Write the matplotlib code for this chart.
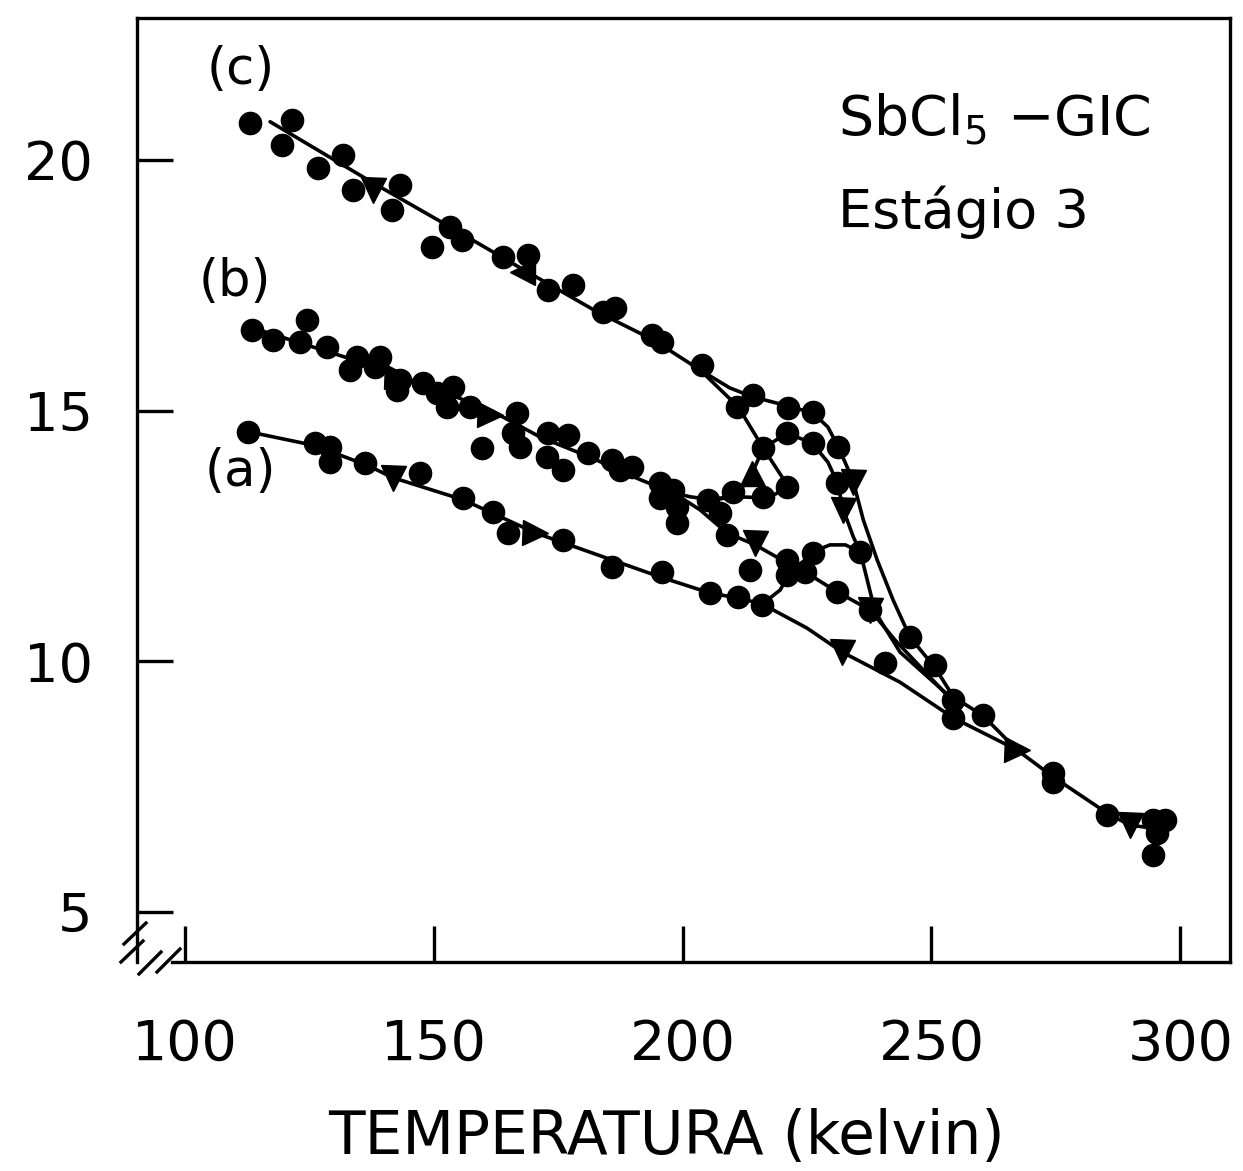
import matplotlib
matplotlib.use("Agg")
import matplotlib.pyplot as plt
from matplotlib.lines import Line2D

# ---------------- data (T in kelvin, value on y axis) ----------------
c_dot_T = [113.1, 119.5, 121.5, 126.7, 131.8, 133.8, 141.6, 143.2, 149.6, 153.3, 155.7, 163.9, 168.9,
           173.0, 178.0, 184.0, 186.4, 193.9, 195.9, 203.9, 211.0, 214.2, 221.2, 226.2, 231.3]
c_dot_V = [20.74, 20.30, 20.80, 19.84, 20.10, 19.40, 19.00, 19.50, 18.26, 18.66, 18.40, 18.06, 18.10,
           17.41, 17.51, 16.97, 17.05, 16.51, 16.37, 15.91, 15.07, 15.31, 15.05, 14.97, 14.27]

b_dot_T = [113.5, 117.7, 123.1, 124.5, 128.5, 133.2, 134.6, 138.2, 139.2, 143.2, 142.6, 147.8, 150.7,
           153.9, 152.7, 157.3, 159.7, 166.7, 165.9, 167.3, 173.0, 177.0, 172.8, 176.0, 181.0, 185.8,
           189.8, 187.4, 195.5, 195.5, 198.1, 198.9, 198.9, 205.1, 207.5, 210.1, 216.2, 221.0, 208.9,
           216.2, 221.0, 226.2, 231.1, 235.7]
b_dot_V = [16.61, 16.41, 16.37, 16.81, 16.27, 15.81, 16.07, 15.87, 16.07, 15.61, 15.41, 15.55, 15.35,
           15.47, 15.07, 15.07, 14.25, 14.95, 14.55, 14.27, 14.55, 14.51, 14.07, 13.82, 14.15, 14.01,
           13.87, 13.82, 13.56, 13.26, 13.42, 13.08, 12.76, 13.22, 12.96, 13.38, 13.28, 13.48, 12.52,
           14.25, 14.55, 14.35, 13.56, 12.18]

a_dot_T = [112.7, 126.1, 129.1, 129.1, 136.2, 147.2, 155.9, 161.9, 164.9, 176.0, 185.8, 195.9, 205.5,
           211.2, 216.0, 213.6, 221.0, 221.0, 226.2, 224.6, 231.1, 237.7]
a_dot_V = [14.57, 14.35, 14.27, 13.97, 13.95, 13.76, 13.26, 12.98, 12.56, 12.42, 11.88, 11.78, 11.36,
           11.28, 11.12, 11.82, 12.02, 11.72, 12.16, 11.78, 11.38, 11.02]

hi_dot_T = [240.7, 245.7, 250.8, 254.4, 254.4, 260.4, 274.5, 274.5, 285.3, 294.6, 297.0, 295.4, 294.6]
hi_dot_V = [9.96, 10.48, 9.92, 9.23, 8.87, 8.93, 7.77, 7.59, 6.93, 6.83, 6.83, 6.57, 6.13]

tri_T = [137.8, 167.7, 142.6, 161.3, 141.8, 170.4, 214.0, 214.6, 234.3, 232.3, 237.7, 232.1, 267.2, 289.9]
tri_V = [19.40, 17.77, 15.67, 14.91, 13.66, 12.56, 13.76, 12.36, 13.58, 13.02, 11.02, 10.18, 8.23, 6.73]
tri_dir = ['v', '<', '>', '>', 'v', '>', '^', 'v', 'v', 'v', 'v', 'v', '>', 'v']

# drawn curves
lineC_T = [117.1, 137.8, 153.3, 167.3, 182.8, 194.1, 203.5, 209.5, 214.2, 221.2, 226.2, 229.2, 231.3,
           232.9, 234.3, 236.3, 239.1, 242.3, 245.7, 250.8, 254.4, 260.4, 267.2, 274.5, 285.3, 289.9, 296.0]
lineC_V = [20.76, 19.54, 18.66, 17.85, 16.97, 16.41, 15.81, 15.45, 15.27, 15.09, 14.95, 14.67, 14.27,
           13.91, 13.58, 12.82, 12.02, 11.22, 10.48, 9.86, 9.29, 8.91, 8.23, 7.69, 6.97, 6.73, 6.65]

lineCi_T = [203.5, 211.2, 216.2, 221.0, 218.8, 216.2, 211.0, 205.9]
lineCi_V = [15.81, 15.07, 14.25, 13.52, 13.34, 13.26, 13.28, 13.22]

lineB_T = [113.5, 123.1, 135.2, 147.2, 161.3, 171.4, 181.4, 191.5, 198.1]
lineB_V = [16.65, 16.35, 15.97, 15.55, 15.01, 14.47, 14.07, 13.62, 13.36]

lineBh_T = [198.1, 201.5, 205.9, 211.0, 214.0, 216.2, 221.0, 226.0, 229.2, 231.1, 232.3, 234.3, 235.7,
            237.1, 238.7, 243.7, 254.4]
lineBh_V = [13.36, 13.28, 13.22, 13.32, 13.76, 14.25, 14.55, 14.35, 13.97, 13.56, 13.02, 12.48, 12.18,
            11.62, 10.98, 10.18, 9.23]

lineBl_T = [198.1, 203.5, 208.9, 214.6, 221.0, 224.6, 231.1, 237.7, 242.7, 254.4]
lineBl_V = [13.36, 13.02, 12.56, 12.32, 11.96, 11.78, 11.38, 11.02, 10.42, 9.19]

lineA_T = [113.1, 125.7, 136.6, 141.8, 155.9, 170.4, 185.8, 195.5, 205.5, 211.2, 216.0, 225.0, 232.1,
           243.7, 254.4, 267.2]
lineA_V = [14.57, 14.31, 13.91, 13.66, 13.22, 12.56, 12.02, 11.68, 11.36, 11.26, 11.14, 10.66, 10.18,
           9.58, 8.87, 8.23]

lineAb_T = [216.0, 219.6, 221.6, 224.6, 226.2, 229.6, 232.7, 235.7]
lineAb_V = [11.14, 11.42, 11.78, 12.02, 12.18, 12.32, 12.32, 12.18]

x_ticks = [100, 150, 200, 250, 300]
y_ticks = [5, 10, 15, 20]

# ---------------- figure ----------------
plt.rcParams['font.family'] = ['DejaVu Sans']
W, H = 1243, 1171
fig = plt.figure(figsize=(W / 100, H / 100), dpi=100)
ax = fig.add_axes([137 / W, 1 - 962 / H, (1230 - 137) / W, (962 - 18) / H])
ax.set_xlim(90.35, 310.0)
ax.set_ylim(4.0, 22.83)

lw = 2.6
for T, V in [(lineC_T, lineC_V), (lineCi_T, lineCi_V), (lineB_T, lineB_V), (lineBh_T, lineBh_V),
             (lineBl_T, lineBl_V), (lineA_T, lineA_V), (lineAb_T, lineAb_V)]:
    ax.plot(T, V, color='black', lw=lw, solid_joinstyle='round', solid_capstyle='round', zorder=2)

ms = 16
for T, V in [(c_dot_T, c_dot_V), (b_dot_T, b_dot_V), (a_dot_T, a_dot_V), (hi_dot_T, hi_dot_V)]:
    ax.plot(T, V, 'o', color='black', ms=ms, mec='black', zorder=3)

for t, v, m in zip(tri_T, tri_V, tri_dir):
    ax.plot([t], [v], m, color='black', ms=18, zorder=3)

# labels
ax.text(111.1, 21.80, '(c)', fontsize=37, ha='center', va='center')
ax.text(110.1, 17.57, '(b)', fontsize=37, ha='center', va='center')
ax.text(111.1, 13.78, '(a)', fontsize=37, ha='center', va='center')
ax.text(231.3, 20.80, r'SbCl$_5$ $-$GIC', fontsize=40, ha='left', va='center')
ax.text(231.3, 18.96, 'Estágio 3', fontsize=39, ha='left', va='center')

# axes styling
ax.set_xticks(x_ticks)
ax.set_yticks(y_ticks)
ax.set_xticklabels([str(v) for v in x_ticks], fontsize=40)
ax.set_yticklabels([str(v) for v in y_ticks], fontsize=39)
ax.tick_params(axis='both', direction='in', length=26, width=2.4, top=False, right=False)
ax.tick_params(axis='x', pad=40)
ax.tick_params(axis='y', pad=32)
for s in ax.spines.values():
    s.set_linewidth(2.4)
ax.spines['bottom'].set_bounds(97.4, 310.0)

fig.text(666 / W, 1 - 1138 / H, 'TEMPERATURA (kelvin)', fontsize=43, ha='center', va='center')

# axis-break marks
def fp(x, y):
    return (x / W, 1 - y / H)

for (x0, y0, x1, y1) in [(124, 944, 146, 923), (121, 962, 143, 941),
                         (139, 974, 161, 952), (157, 972, 180, 949)]:
    p0, p1 = fp(x0, y0), fp(x1, y1)
    fig.add_artist(Line2D([p0[0], p1[0]], [p0[1], p1[1]], transform=fig.transFigure,
                          color='black', lw=2.4))

fig.savefig('out.png', dpi=100, facecolor='white')
